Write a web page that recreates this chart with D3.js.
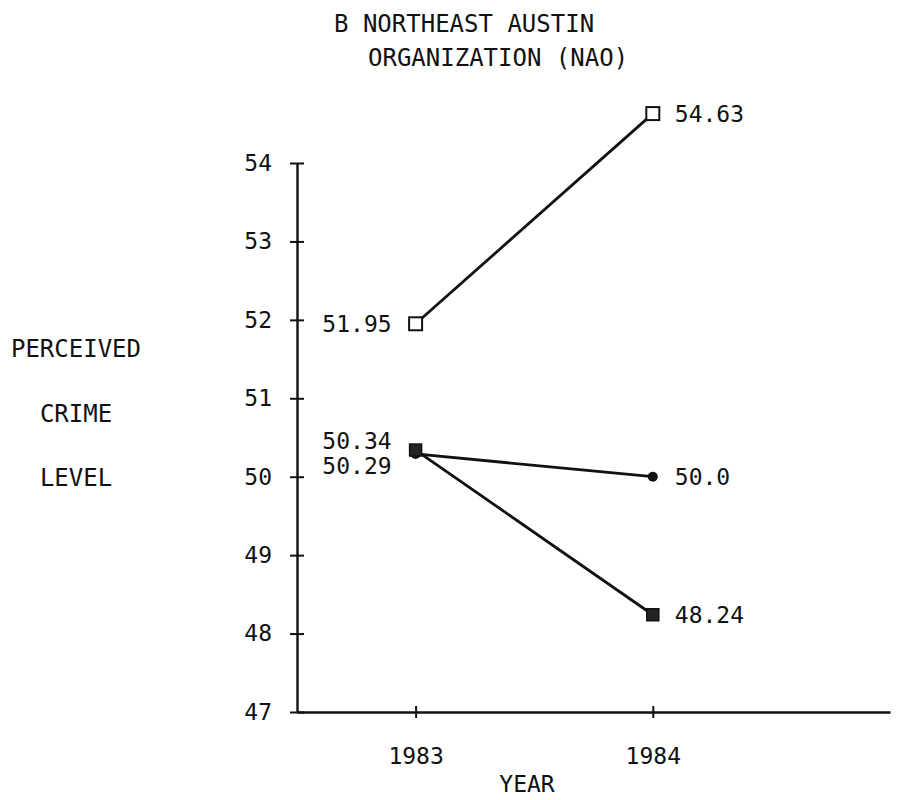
<!DOCTYPE html>
<html>
<head>
<meta charset="utf-8">
<script src="https://cdn.jsdelivr.net/npm/d3@7"></script>
<style>
  body { margin: 0; background: #fff; }
  svg text { font-family: "DejaVu Sans Mono", monospace; fill: #111; }
</style>
</head>
<body>
<svg id="chart" width="901" height="800"></svg>
<script>
// ---- data ----
const years = [1983, 1984];
const yTicks = [47, 48, 49, 50, 51, 52, 53, 54];
const seriesOpenSquare = [51.95, 54.63];
const seriesCircle = [50.29, 50.0];
const seriesFilledSquare = [50.34, 48.24];
const labelsOpenSquare = ["51.95", "54.63"];
const labelsCircle = ["50.29", "50.0"];
const labelsFilledSquare = ["50.34", "48.24"];
const titleLines = ["B NORTHEAST AUSTIN", "ORGANIZATION (NAO)"];
const yTitleLines = ["PERCEIVED", "CRIME", "LEVEL"];
const xTitle = "YEAR";

// ---- drawing ----
const svg = d3.select("#chart");
const x = d3.scaleLinear().domain([1982.5, 1985]).range([297, 890]);
const y = d3.scaleLinear().domain([47, 54]).range([712, 163]);
const ink = "#111";
const fs = 23;

// title
svg.append("text").attr("x", 334).attr("y", 32).attr("font-size", 24).text(titleLines[0]);
svg.append("text").attr("x", 368).attr("y", 66).attr("font-size", 24).text(titleLines[1]);

// y axis
const gy = svg.append("g").attr("transform", "translate(297,0)")
  .call(d3.axisLeft(y).tickValues(yTicks).tickSizeOuter(0).tickSizeInner(7).tickPadding(18).tickFormat(d3.format("d")));
gy.select(".domain").attr("stroke", ink).attr("stroke-width", 2.4);
gy.selectAll(".tick line").attr("x1", -7).attr("x2", 7).attr("stroke", ink).attr("stroke-width", 2);
gy.selectAll(".tick text").attr("font-size", fs).attr("font-family", "DejaVu Sans Mono").attr("fill", ink);

// x axis
const gx = svg.append("g").attr("transform", "translate(0,712)")
  .call(d3.axisBottom(x).tickValues(years).tickSizeOuter(0).tickSizeInner(6).tickPadding(30).tickFormat(d3.format("d")));
gx.select(".domain").attr("stroke", ink).attr("stroke-width", 2.4);
gx.selectAll(".tick line").attr("y1", -6).attr("y2", 6).attr("stroke", ink).attr("stroke-width", 2);
gx.selectAll(".tick text").attr("font-size", fs).attr("font-family", "DejaVu Sans Mono").attr("fill", ink);

// axis titles
yTitleLines.forEach((t, i) => {
  svg.append("text").attr("x", 76).attr("y", 357 + i * 64.5).attr("text-anchor", "middle")
    .attr("font-size", 24).text(t);
});
svg.append("text").attr("x", 527).attr("y", 792).attr("text-anchor", "middle").attr("font-size", fs).text(xTitle);

// lines
const line = d3.line().x((d, i) => x(years[i])).y(d => y(d));
[seriesOpenSquare, seriesCircle, seriesFilledSquare].forEach(s => {
  svg.append("path").datum(s).attr("d", line).attr("fill", "none")
    .attr("stroke", ink).attr("stroke-width", 2.8);
});

// markers
seriesOpenSquare.forEach((v, i) => {
  svg.append("rect").attr("x", x(years[i]) - 6.5).attr("y", y(v) - 6.5).attr("width", 13).attr("height", 13)
    .attr("fill", "#fff").attr("stroke", ink).attr("stroke-width", 2);
});
seriesCircle.forEach((v, i) => {
  svg.append("circle").attr("cx", x(years[i])).attr("cy", y(v)).attr("r", 5).attr("fill", ink);
});
seriesFilledSquare.forEach((v, i) => {
  svg.append("rect").attr("x", x(years[i]) - 6).attr("y", y(v) - 6).attr("width", 12).attr("height", 12)
    .attr("fill", "#222").attr("stroke", ink).attr("stroke-width", 1.5);
});

// value labels
function addLabel(v, i, txt, dy) {
  const left = i === 0;
  svg.append("text")
    .attr("x", left ? x(years[i]) - 24 : x(years[i]) + 22)
    .attr("y", y(v) + 8 + dy)
    .attr("text-anchor", left ? "end" : "start")
    .attr("font-size", fs).text(txt);
}
seriesOpenSquare.forEach((v, i) => addLabel(v, i, labelsOpenSquare[i], 0));
seriesCircle.forEach((v, i) => addLabel(v, i, labelsCircle[i], i === 0 ? 12 : 0));
seriesFilledSquare.forEach((v, i) => addLabel(v, i, labelsFilledSquare[i], i === 0 ? -9 : 0));
</script>
</body>
</html>
